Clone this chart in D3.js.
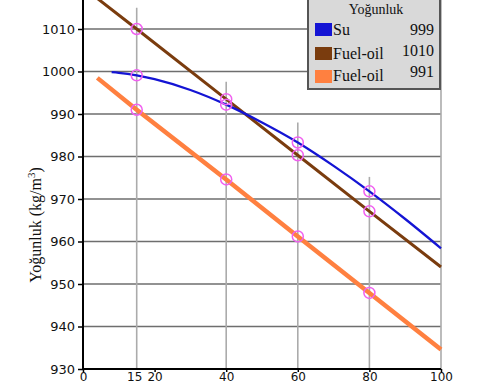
<!DOCTYPE html>
<html><head><meta charset="utf-8">
<script src="https://cdn.jsdelivr.net/npm/d3@7"></script>
<style>body{margin:0;background:#fff}svg{display:block}</style>
</head><body>
<script>
// ---- data ----
const yTicks = [930, 940, 950, 960, 970, 980, 990, 1000, 1010];
const xTicks = [0, 20, 40, 60, 80, 100];
const xExtraLabels = [15];
const markerX = [15, 40, 60, 80];
const seriesNames = ["Su", "Fuel-oil", "Fuel-oil"];
const seriesLegendValues = ["999", "1010", "991"];
const seriesColors = ["#1414d4", "#7a3c0e", "#ff8040"];
const suX = [8, 10, 15, 20, 30, 40, 50, 60, 70, 80, 90, 100];
const suY = [999.85, 999.7, 999.1, 998.2, 995.65, 992.2, 988.0, 983.3, 977.8, 971.8, 965.3, 958.4];
const fuel1010X = [4, 15, 40, 60, 80, 100];
const fuel1010Y = [1017.2, 1010, 993.5, 980.3, 967.1, 954.0];
const fuel991X = [4, 15, 40, 60, 80, 100];
const fuel991Y = [998.5, 991.0, 974.6, 961.2, 947.9, 934.6];
const markersSu = [999.1, 992.2, 983.3, 971.8];
const markers1010 = [1010, 993.5, 980.3, 967.1];
const markers991 = [991.0, 974.6, 961.2, 947.9];
const dropTop = [1015, 997.6, 988, 975.2];

const W = 480, H = 384;
const svg = d3.select("body").append("svg").attr("width", W).attr("height", H);
const x = d3.scaleLinear().domain([0, 100]).range([83, 441]);
const y = d3.scaleLinear().domain([930, 1010]).range([369, 29]);

// horizontal grid
svg.append("g").selectAll("line").data(yTicks.filter(d => d > 930)).join("line")
  .attr("x1", x(0)).attr("x2", x(100)).attr("y1", d => y(d)).attr("y2", d => y(d))
  .attr("stroke", "#6e6e6e").attr("stroke-width", 1.6);

// vertical drop lines
svg.append("g").selectAll("line").data(markerX).join("line")
  .attr("x1", d => x(d)).attr("x2", d => x(d))
  .attr("y1", (d, i) => y(dropTop[i])).attr("y2", y(930))
  .attr("stroke", "#ababab").attr("stroke-width", 1.6);
svg.append("line").attr("x1", x(100)).attr("x2", x(100)).attr("y1", 0).attr("y2", y(930))
  .attr("stroke", "#ababab").attr("stroke-width", 1.6);

// series lines
const line = d3.line().x(d => x(d[0])).y(d => y(d[1]));
const suPts = suX.map((v, i) => [v, suY[i]]);
const f1Pts = fuel1010X.map((v, i) => [v, fuel1010Y[i]]);
const f2Pts = fuel991X.map((v, i) => [v, fuel991Y[i]]);
svg.append("path").datum(f2Pts).attr("d", line).attr("fill", "none")
  .attr("stroke", seriesColors[2]).attr("stroke-width", 4.5);
svg.append("path").datum(f1Pts).attr("d", line).attr("fill", "none")
  .attr("stroke", seriesColors[1]).attr("stroke-width", 3);
svg.append("path").datum(suPts).attr("d", line.curve(d3.curveMonotoneX)).attr("fill", "none")
  .attr("stroke", seriesColors[0]).attr("stroke-width", 2.3);

// markers
const mk = [];
[markersSu, markers1010, markers991].forEach(arr => arr.forEach((v, i) => mk.push([markerX[i], v])));
svg.append("g").selectAll("circle").data(mk).join("circle")
  .attr("cx", d => x(d[0])).attr("cy", d => y(d[1])).attr("r", 5.5)
  .attr("fill", "none").attr("stroke", "#f060f0").attr("stroke-width", 1.5);

// axes
const fontSans = "'DejaVu Sans', Verdana, sans-serif";
const yAxis = svg.append("g").attr("transform", `translate(${x(0)},0)`)
  .call(d3.axisLeft(y).tickValues(yTicks).tickFormat(d3.format("d")).tickSize(5).tickSizeOuter(0).tickPadding(3));
yAxis.select(".domain").remove();
yAxis.selectAll("line").attr("stroke", "#000").attr("stroke-width", 1.5);
yAxis.selectAll("text").attr("font-family", fontSans).attr("font-size", 13).attr("fill", "#111");
svg.append("line").attr("x1", x(0)).attr("x2", x(0)).attr("y1", 0).attr("y2", y(930) + 1)
  .attr("stroke", "#000").attr("stroke-width", 2);

const xAxis = svg.append("g").attr("transform", `translate(0,${y(930)})`)
  .call(d3.axisBottom(x).tickValues(xTicks).tickFormat(d3.format("d")).tickSize(3).tickSizeOuter(0).tickPadding(2));
xAxis.select(".domain").remove();
xAxis.selectAll("line").attr("stroke", "#000").attr("stroke-width", 1.5);
xAxis.selectAll("text").attr("font-family", fontSans).attr("font-size", 12).attr("fill", "#111")
  .attr("y", 11.5).attr("dy", null);
xAxis.selectAll("text.extra").data(xExtraLabels).join("text").attr("class", "extra")
  .attr("x", d => x(d) - 2).attr("y", 11.5).attr("text-anchor", "middle")
  .attr("font-family", fontSans).attr("font-size", 12).attr("fill", "#111").text(d => d);
svg.append("line").attr("x1", x(0)).attr("x2", x(100)).attr("y1", y(930)).attr("y2", y(930))
  .attr("stroke", "#000").attr("stroke-width", 2);

// y axis title
svg.append("text").attr("transform", `translate(41,225) rotate(-90)`)
  .attr("text-anchor", "middle").attr("font-family", "'Liberation Serif', 'DejaVu Serif', serif")
  .attr("font-size", 16).attr("fill", "#111")
  .html("Yoğunluk (kg/m<tspan baseline-shift='super' font-size='11'>3</tspan>)");

// legend
const lg = svg.append("g");
lg.append("rect").attr("x", 308).attr("y", -10).attr("width", 132).attr("height", 99)
  .attr("fill", "#d9d9d9").attr("stroke", "#555").attr("stroke-width", 2);
lg.append("text").attr("x", 376).attr("y", 13.5).attr("text-anchor", "middle")
  .attr("font-family", "'Liberation Serif', serif").attr("font-size", 14).attr("fill", "#111")
  .text("Yoğunluk");
const nameY = [35, 59, 81], valY = [35, 56, 77];
const rows = lg.selectAll("g.row").data(seriesNames.map((n, i) => ({n, v: seriesLegendValues[i], c: seriesColors[i], i})))
  .join("g").attr("class", "row");
rows.append("rect").attr("x", 315).attr("y", d => [23, 47, 70][d.i]).attr("width", 17).attr("height", 13).attr("fill", d => d.c);
rows.append("text").attr("x", 333).attr("y", d => nameY[d.i]).attr("font-family", "'Liberation Serif', serif")
  .attr("font-size", 16).attr("fill", "#111").text(d => d.n);
rows.append("text").attr("x", 434).attr("y", d => valY[d.i]).attr("text-anchor", "end")
  .attr("font-family", "'Liberation Serif', serif").attr("font-size", 16).attr("fill", "#111").text(d => d.v);
</script>
</body></html>
